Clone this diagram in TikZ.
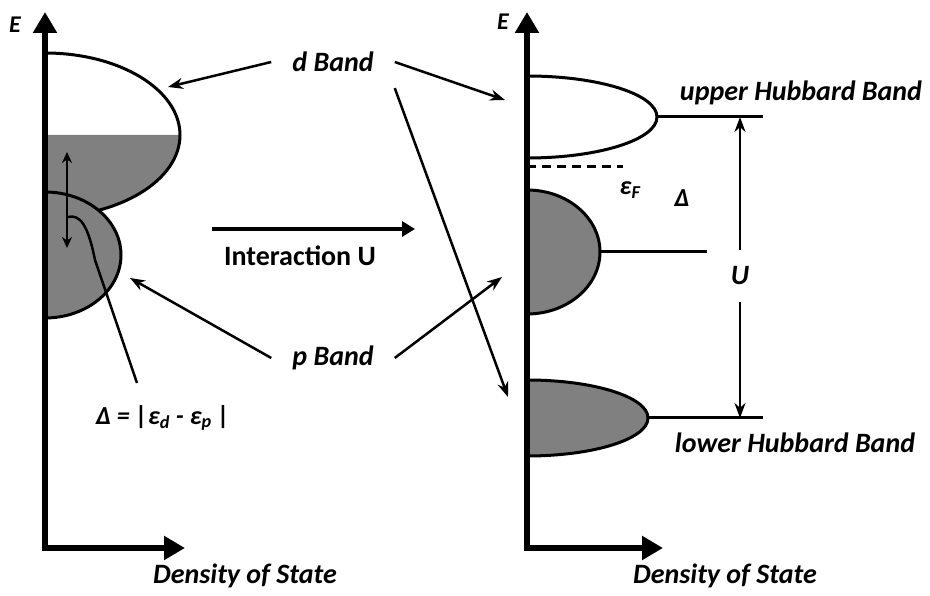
\documentclass[tikz,border=0pt]{standalone}
\usepackage{fontspec}
\setmainfont{Carlito}
\usetikzlibrary{arrows.meta}

\begin{document}
\begin{tikzpicture}[x=1pt,y=1pt,
  axis/.style={line width=5.5pt,{Triangle[length=21pt,width=23pt]}-{Triangle[length=21pt,width=23pt]}},
  band/.style={line width=3pt},
  ptr/.style={line width=2.5pt,-{Stealth[length=15pt,width=11pt]}},
  txt/.style={font=\fontsize{28}{32}\selectfont\bfseries\itshape,inner sep=0pt}]
  \useasboundingbox (0,0) rectangle (930,596);
  % left panel: d band over p band
  \fill[gray] (45,461) -- (180,461) arc[start angle=0,end angle=-90,x radius=135,y radius=82] -- cycle;
  \draw[band] (45,543) arc[start angle=90,end angle=-90,x radius=135,y radius=82];
  \filldraw[band,fill=gray] (45,404) arc[start angle=90,end angle=-90,x radius=76,y radius=63];
  \draw[line width=2.2pt,{Stealth[length=11pt,width=10pt]}-{Stealth[length=11pt,width=10pt]}] (67,444) -- (67,348);
  \draw[axis] (45,584) -- (45,48) -- (185,48);
  \node[txt,font=\fontsize{24}{28}\selectfont\bfseries\itshape] (E1) at (15,571) {E};
  \node[txt] (dos1) at (245,20) {Density of State};
  \node[txt,font=\fontsize{26}{30}\selectfont\bfseries\itshape] (deltaeq) at (163,178) {Δ = |ε\textsubscript{d} - ε\textsubscript{p} |};
  \coordinate (hook) at (68,379);
  \coordinate (hookend) at (137,213);
  \draw[line width=2.5pt] (hook) .. controls (80,382) and (88,371) .. (95,336) -- (hookend);
  % right panel: Hubbard bands
  \filldraw[band,fill=white] (527,520) arc[start angle=90,end angle=-90,x radius=130,y radius=41];
  \draw[band,dash pattern=on 9pt off 6pt] (527,429) -- (623,429);
  \filldraw[band,fill=gray] (527,406) arc[start angle=90,end angle=-90,x radius=73,y radius=62];
  \filldraw[band,fill=gray] (527,216) arc[start angle=90,end angle=-90,x radius=121,y radius=38];
  \coordinate (uhb) at (657,479);
  \coordinate (uhbend) at (763,479);
  \coordinate (mid) at (600,344);
  \coordinate (midend) at (707,344);
  \coordinate (lhb) at (648,178);
  \coordinate (lhbend) at (763,178);
  \draw[band] (uhb) -- (uhbend);
  \draw[band] (mid) -- (midend);
  \draw[band] (lhb) -- (lhbend);
  \draw[axis] (527,584) -- (527,48) -- (663,48);
  \node[txt,font=\fontsize{24}{28}\selectfont\bfseries\itshape] (E2) at (503,574) {E};
  \node[txt] (dos2) at (725,20) {Density of State};
  \node[txt] (upper) at (801,503) {upper Hubbard Band};
  \node[txt] (lower) at (795,153) {lower Hubbard Band};
  \node[txt,font=\fontsize{26}{30}\selectfont\bfseries\itshape] (ef) at (630,406) {ε\textsubscript{F}};
  \node[txt,font=\fontsize{26}{30}\selectfont\bfseries\itshape] (delta) at (682,398) {Δ};
  \node[txt,inner ysep=17pt] (U) at (740,320) {U};
  \draw[ptr] (U.north) -- (740,479);
  \draw[ptr] (U.south) -- (740,178);
  % labels and pointers in between
  \node[txt,inner xsep=21pt,inner ysep=16pt] (dband) at (333,534) {d Band};
  \node[txt,inner xsep=21pt] (pband) at (333,238) {p Band};
  \coordinate (dL) at (168,509);
  \coordinate (dR) at (505,496);
  \coordinate (dLow) at (508,199);
  \coordinate (pL) at (130,318);
  \coordinate (pR) at (502,319);
  \draw[ptr] (dband.west) -- (dL);
  \draw[ptr] (dband.east) -- (dR);
  \draw[ptr] (dband.south east) -- (dLow);
  \draw[ptr] (pband.west) -- (pL);
  \draw[ptr] (pband.east) -- (pR);
  \coordinate (ustart) at (212,367);
  \coordinate (uend) at (415,367);
  \draw[line width=4.5pt,-{Triangle[length=13pt,width=15pt]}] (ustart) -- (uend);
  \node[txt,font=\fontsize{28}{32}\selectfont\bfseries] (inter) at (300,340) {Interaction U};
\end{tikzpicture}
\end{document}
